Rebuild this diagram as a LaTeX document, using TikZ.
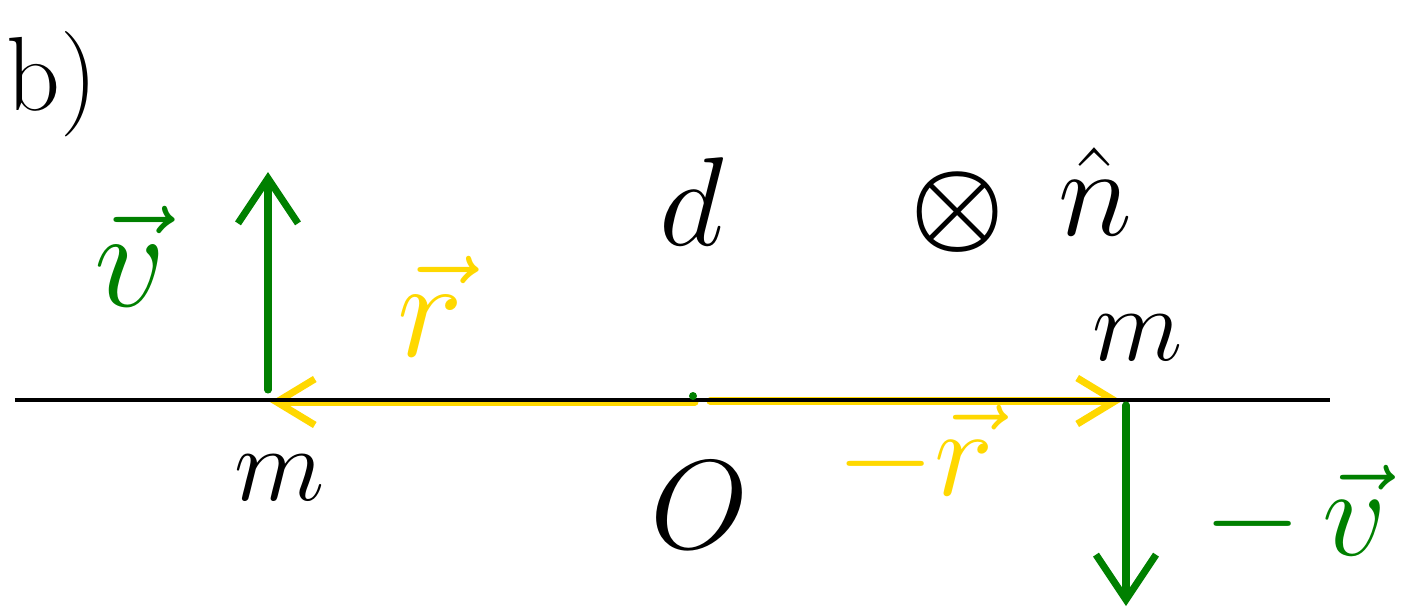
\RequirePackage{fix-cm}
\documentclass[tikz,border=0pt]{standalone}
\usepackage{amsmath}
\usepackage{tikz}
\usetikzlibrary{arrows.meta}
\definecolor{vecgreen}{HTML}{008000}
\definecolor{vecyellow}{HTML}{FFD800}

\begin{document}
\begin{tikzpicture}[
  font=\fontsize{36}{40}\selectfont,
  lbl/.style={inner sep=0pt},
  big/.style={font=\fontsize{40}{44}\selectfont},
  small/.style={font=\fontsize{30}{34}\selectfont},
  velarr/.style={-{Straight Barb[length=4.5mm,width=6mm,line width=2pt]},draw=vecgreen,line width=2pt,line cap=round},
  posarr/.style={-{Straight Barb[length=3.8mm,width=4.6mm,line width=2pt]},draw=vecyellow,line width=2pt,line cap=round}
]
\useasboundingbox (0,0) rectangle (14.1,6.14);

% points on the axis
\coordinate (O) at (6.95,2.12);
\coordinate (Oright) at (7.10,2.13);
\coordinate (mleft) at (2.70,2.12);
\coordinate (mright) at (11.22,2.13);
\coordinate (axisL) at (0.15,2.14);
\coordinate (axisR) at (13.30,2.14);
\coordinate (vtop) at (2.68,4.42);
\coordinate (vbase) at (2.68,2.24);
\coordinate (wbase) at (11.26,2.09);
\coordinate (wtip) at (11.26,0.08);

% position vectors
\draw[posarr] (O) -- (mleft);
\draw[posarr] (Oright) -- (mright);
\draw[black,line width=0.9pt] (axisL) -- (axisR);
\fill[vecgreen] (6.93,2.18) circle (0.04);

% velocities
\draw[velarr] (vbase) -- (vtop);
\draw[velarr] (wbase) -- (wtip);

\node[lbl,small] (part) at (0.52,5.30) {b)};
\node[lbl,big,text=vecgreen] (v) at (1.30,3.58) {$\vec v$};
\node[lbl,big,text=vecyellow] (r) at (4.30,3.08) {$\vec r$};
\node[lbl] (d) at (6.92,4.12) {$d$};
\node[lbl,small] (cross) at (9.58,4.02) {$\boldsymbol{\otimes}$};
\node[lbl] (nhat) at (10.95,4.22) {$\hat n$};
\node[lbl,small] (m2) at (11.38,2.76) {$m$};
\node[lbl,small] (m1) at (2.80,1.36) {$m$};
\node[lbl] (origin) at (7.00,1.09) {$O$};
\node[lbl,text=vecyellow] (mr) at (9.15,1.58) {$-\vec r$};
\node[lbl,text=vecgreen] (mv) at (12.95,0.98) {$-\,\vec v$};
\end{tikzpicture}
\end{document}
